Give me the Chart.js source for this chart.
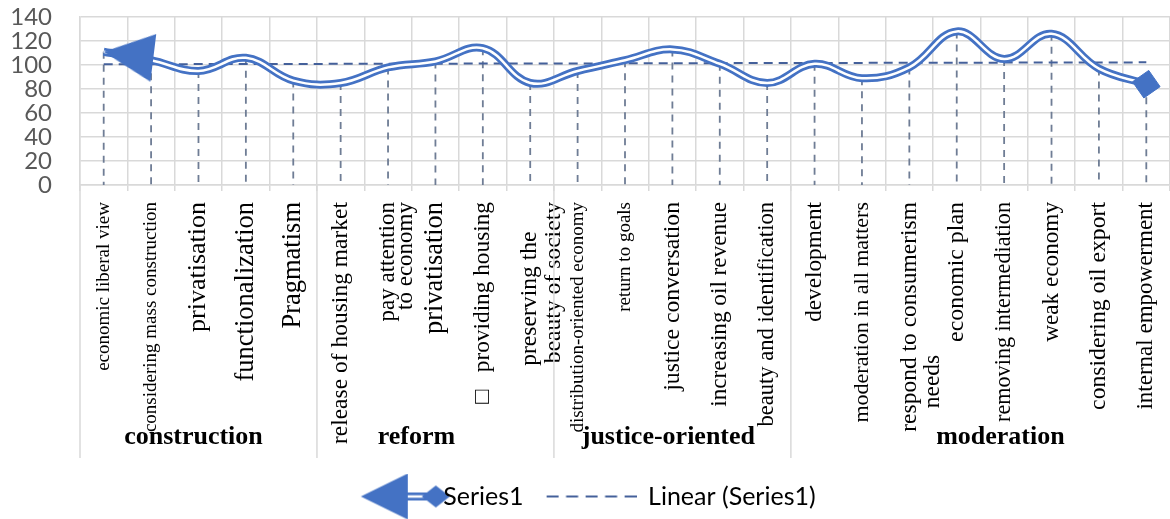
<!DOCTYPE html>
<html>
<head>
<meta charset="utf-8">
<script src="https://cdn.jsdelivr.net/npm/chart.js@4.4.1/dist/chart.umd.min.js"></script>
<style>
  html, body { margin: 0; padding: 0; background: #fff; overflow: hidden; }
  #wrap { width: 1170px; height: 519px; position: relative; }
</style>
</head>
<body>
<div id="wrap"><canvas id="chart"></canvas></div>
<script>
'use strict';

// categories along the x axis, grouped four ways
const categories = [
  'economic liberal view', 'considering mass construction', 'privatisation', 'functionalization', 'Pragmatism',
  'release of housing market', ['pay attention', 'to economy'], 'privatisation', '\u25A1   providing housing', ['preserving the', 'beauty of society'],
  'distribution-oriented economy', 'return to goals', 'justice conversation', 'increasing oil revenue', 'beauty and identification',
  'development', 'moderation in all matters', ['respond to consumerism', 'needs'], 'economic plan', 'removing intermediation',
  'weak economy', 'considering oil export', 'internal empowerment'
]
const groupNames = ['construction', 'reform', 'justice-oriented', 'moderation']
const groupSizes = [5, 5, 5, 8]

const series1 = [111, 104, 95, 106, 87, 85, 98, 103, 114, 85, 95, 104, 113, 101, 85, 101, 89, 98, 128, 105, 126, 97, 84]
const trendEnds = [100.6, 102.2]   // Linear (Series1) at first / last category
const yTickValues = [0, 20, 40, 60, 80, 100, 120, 140]

// label styling
const tickFontSizes = [19, 19, 26, 26.5, 26.5, 23.5, 23, 26.4, 23.3, 23.6, 19, 19, 23.7, 23.2, 22.6, 23.2, 22, 23.5, 23.9, 22.2, 23.2, 23.7, 23]
const tickLineHeights = categories.map((c, i) => i === 6 ? 0.8 : 1)
const trailingSpaces = { 9: [5, 0], 17: [0, 26] }   // fake start-alignment of wrapped lines
const groupLabelShift = [-5, -19, -4, 20]

const blue = '#4472c4'
const trendColor = '#44609a'
const gridColor = '#d9d9d9'
const serif = "'Liberation Serif', 'Times New Roman', serif"

function makeCanvas(w, h, draw) {
    const c = document.createElement('canvas')
    c.width = w
    c.height = h
    draw(c.getContext('2d'))
    return c
}

// start-of-line arrow head, tip sits on the data point
const arrowImg = makeCanvas(104, 50, g => {
    g.fillStyle = blue
    g.beginPath(); g.moveTo(52, 25); g.lineTo(102, 1); g.lineTo(102, 49); g.closePath(); g.fill()
})

const seriesIcon = makeCanvas(142, 48, g => {
    g.fillStyle = blue
    g.beginPath(); g.moveTo(52, 24); g.lineTo(99, 1); g.lineTo(99, 47); g.closePath(); g.fill()
    g.strokeStyle = blue; g.lineWidth = 8
    g.beginPath(); g.moveTo(97, 24); g.lineTo(122, 24); g.stroke()
    g.strokeStyle = '#fff'; g.lineWidth = 2.5
    g.beginPath(); g.moveTo(99, 24); g.lineTo(118, 24); g.stroke()
    g.fillStyle = blue
    g.beginPath(); g.moveTo(113, 24); g.lineTo(127, 13); g.lineTo(141, 24); g.lineTo(127, 35); g.closePath(); g.fill()
})

const trendIcon = makeCanvas(104, 6, g => {
    g.strokeStyle = trendColor; g.lineWidth = 2
    g.setLineDash([12, 7.5])
    g.beginPath(); g.moveTo(14, 3); g.lineTo(104, 3); g.stroke()
})

const n = categories.length
const trendData = categories.map((c, i) => i === 0 ? trendEnds[0] : (i === n - 1 ? trendEnds[1] : null))
const markerStyle = series1.map((v, i) => i === 0 ? arrowImg : (i === n - 1 ? 'rectRot' : 'circle'))
const markerRadius = series1.map((v, i) => i === 0 ? 10 : (i === n - 1 ? 14 : 0))
const markerRotation = series1.map((v, i) => i === 0 ? 7 : (i === n - 1 ? 10 : 0))

// dashed drop lines from every point down to the axis
const dropLines = {
    id: 'dropLines',
    beforeDatasetsDraw(chart) {
        const meta = chart.getDatasetMeta(1)
        const yBottom = chart.scales.y.getPixelForValue(0)
        const ctx = chart.ctx
        ctx.save()
        ctx.strokeStyle = '#6f7d95'
        ctx.lineWidth = 1.8
        ctx.setLineDash([7, 6])
        meta.data.forEach(pt => {
            ctx.beginPath()
            ctx.moveTo(pt.x, pt.y)
            ctx.lineTo(pt.x, yBottom)
            ctx.stroke()
        })
        ctx.restore()
    }
}

// group separators and bold group names under the tick labels
const groupLabels = {
    id: 'groupLabels',
    afterDraw(chart) {
        const x = chart.scales.x
        const ctx = chart.ctx
        ctx.save()
        ctx.strokeStyle = gridColor
        ctx.lineWidth = 1.5
        ctx.fillStyle = '#000'
        ctx.font = 'bold 26px ' + serif
        ctx.textAlign = 'center'
        ctx.textBaseline = 'middle'
        let start = 0
        groupNames.forEach((name, g) => {
            const end = start + groupSizes[g] - 1
            const left = start === 0 ? x.left : (x.getPixelForTick(start - 1) + x.getPixelForTick(start)) / 2
            const right = end === n - 1 ? x.right : (x.getPixelForTick(end) + x.getPixelForTick(end + 1)) / 2
            ctx.beginPath()
            ctx.moveTo(left, x.top)
            ctx.lineTo(left, x.top + 273)
            ctx.stroke()
            ctx.fillText(name, (left + right) / 2 + groupLabelShift[g], x.top + 252)
            start = end + 1
        })
        ctx.restore()
    }
}

const ctx = document.getElementById('chart').getContext('2d')
const chart = new Chart(ctx, {
    type: 'line',
    data: {
        labels: categories,
        datasets: [{
            label: 'Series1',
            data: series1,
            borderColor: '#ffffff',
            borderWidth: 2.5,
            tension: 0.4,
            pointStyle: markerStyle,
            pointRadius: markerRadius,
            pointRotation: markerRotation,
            pointBackgroundColor: blue,
            pointBorderColor: blue,
            pointBorderWidth: 1,
            order: 0
        },
        {
            label: 'Series1 outline',
            data: series1,
            borderColor: blue,
            borderWidth: 8,
            tension: 0.4,
            pointRadius: 0,
            order: 1
        },
        {
            label: 'Linear (Series1)',
            data: trendData,
            spanGaps: true,
            borderColor: trendColor,
            borderWidth: 2,
            borderDash: [9, 6],
            pointRadius: 0,
            order: 2
        }]
    },
    options: {
        responsive: true,
        maintainAspectRatio: false,
        animation: false,
        layout: { autoPadding: false, padding: { top: 17, left: 0, right: 0, bottom: 0 } },
        scales: {
            x: {
                offset: true,
                grid: { offset: true, color: gridColor, lineWidth: 1.5, drawTicks: true, tickLength: 6 },
                border: { color: gridColor, width: 1.5 },
                ticks: {
                    autoSkip: false,
                    minRotation: 90,
                    maxRotation: 90,
                    padding: 11,
                    color: '#000',
                    font: (c) => ({ family: serif, size: tickFontSizes[c.index], lineHeight: tickLineHeights[c.index] }),
                    callback: function (value, index) {
                        const label = this.getLabelForValue(value)
                        const pads = trailingSpaces[index]
                        if (!pads) return label
                        return label.map((line, k) => line + ' '.repeat(pads[k]))
                    }
                },
                afterFit(scale) {
                    scale.height = 289
                    scale.paddingLeft = 0
                    scale.paddingRight = 0
                }
            },
            y: {
                min: yTickValues[0],
                max: yTickValues[yTickValues.length - 1],
                grid: { color: gridColor, lineWidth: 1.5, drawTicks: false },
                border: { color: gridColor, width: 1.5 },
                ticks: {
                    autoSkip: false,
                    stepSize: yTickValues[1] - yTickValues[0],
                    padding: 28,
                    color: '#595959',
                    font: { family: 'Lato', size: 24 }
                },
                afterFit(scale) {
                    scale.width = 80
                    scale.paddingTop = 0
                    scale.paddingBottom = 0
                }
            }
        },
        plugins: {
            tooltip: { enabled: false },
            legend: {
                position: 'bottom',
                labels: {
                    usePointStyle: true,
                    pointStyleWidth: 102,
                    padding: 10,
                    color: '#595959',
                    font: { family: 'Lato', size: 25 },
                    generateLabels: () => [
                        { text: 'Series1', pointStyle: seriesIcon, fillStyle: blue, strokeStyle: blue, lineWidth: 0, hidden: false, datasetIndex: 1 },
                        // trailing spaces only widen the row so it centres like the original
                        { text: 'Linear (Series1)    ', pointStyle: trendIcon, fillStyle: trendColor, strokeStyle: trendColor, lineWidth: 0, hidden: false, datasetIndex: 2 }
                    ]
                }
            }
        }
    },
    plugins: [dropLines, groupLabels]
})
</script>
</body>
</html>
